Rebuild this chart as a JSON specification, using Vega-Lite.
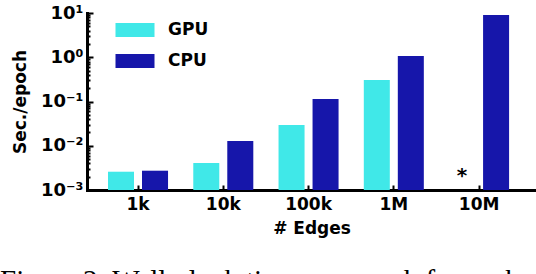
{
  "$schema": "https://vega.github.io/schema/vega-lite/v6.json",
  "autosize": {"type": "none"},
  "padding": {"left": 87, "top": 13, "right": 0, "bottom": 84},
  "width": 449,
  "height": 177,
  "background": "white",
  "title": {
    "text": "Figure 2: Wall-clock time per epoch for each",
    "orient": "bottom",
    "anchor": "start",
    "frame": "group",
    "dx": -87,
    "offset": 31,
    "font": "Liberation Serif",
    "fontSize": 29,
    "fontWeight": "normal",
    "color": "black",
    "baseline": "top"
  },
  "data": {
    "values": [
      {"edges": "1k", "device": "GPU", "sec": 0.00259},
      {"edges": "1k", "device": "CPU", "sec": 0.00273},
      {"edges": "10k", "device": "GPU", "sec": 0.00407},
      {"edges": "10k", "device": "CPU", "sec": 0.0128},
      {"edges": "100k", "device": "GPU", "sec": 0.0294},
      {"edges": "100k", "device": "CPU", "sec": 0.1137},
      {"edges": "1M", "device": "GPU", "sec": 0.306},
      {"edges": "1M", "device": "CPU", "sec": 1.067},
      {"edges": "10M", "device": "GPU", "sec": null, "note": "*"},
      {"edges": "10M", "device": "CPU", "sec": 9.0}
    ]
  },
  "encoding": {
    "x": {
      "field": "edges",
      "type": "nominal",
      "sort": ["1k", "10k", "100k", "1M", "10M"],
      "scale": {"paddingInner": 0, "paddingOuter": 0.133, "align": 0.37},
      "axis": {
        "title": "# Edges",
        "labelAngle": 0,
        "tickSize": -5,
        "tickWidth": 2,
        "tickColor": "black",
        "domainWidth": 3,
        "domainColor": "black",
        "domainCap": "square",
        "labelPadding": 11,
        "labelFont": "DejaVu Sans",
        "labelFontSize": 17,
        "labelFontWeight": "bold",
        "labelColor": "black",
        "titleFont": "DejaVu Sans",
        "titleFontSize": 17,
        "titleFontWeight": "bold",
        "titleColor": "black",
        "titlePadding": 8
      }
    },
    "xOffset": {
      "field": "device",
      "type": "nominal",
      "sort": ["GPU", "CPU"],
      "scale": {"paddingInner": 0.235, "paddingOuter": 0.371}
    }
  },
  "layer": [
    {
      "transform": [{"filter": "isValid(datum.sec)"}],
      "mark": {"type": "bar"},
      "encoding": {
        "y": {
          "field": "sec",
          "type": "quantitative",
          "stack": null,
          "scale": {"type": "log", "domain": [0.001, 10], "nice": false},
          "axis": {
            "title": "Sec./epoch",
            "values": [0.001, 0.002, 0.003, 0.004, 0.005, 0.006, 0.007, 0.008, 0.009, 0.01, 0.02, 0.03, 0.04, 0.05, 0.06, 0.07, 0.08, 0.09, 0.1, 0.2, 0.3, 0.4, 0.5, 0.6, 0.7, 0.8, 0.9, 1, 2, 3, 4, 5, 6, 7, 8, 9, 10],
            "labelExpr": "datum.value == 10 ? '10¹' : datum.value == 1 ? '10⁰' : datum.value == 0.1 ? '10⁻¹' : datum.value == 0.01 ? '10⁻²' : datum.value == 0.001 ? '10⁻³' : ''",
            "labelOverlap": false,
            "labelBound": false,
            "grid": false,
            "tickSize": {"condition": {"test": "indexof([0.001, 0.01, 0.1, 1, 10], datum.value) >= 0", "value": -6}, "value": -3},
            "tickWidth": 2,
            "tickColor": "black",
            "domainWidth": 3,
            "domainColor": "black",
            "domainCap": "square",
            "labelPadding": 10,
            "labelFont": "DejaVu Sans",
            "labelFontSize": 18,
            "labelFontWeight": "bold",
            "labelColor": "black",
            "titleFont": "DejaVu Sans",
            "titleFontSize": 17,
            "titleFontWeight": "bold",
            "titleColor": "black",
            "titlePadding": 11
          }
        },
        "color": {
          "field": "device",
          "type": "nominal",
          "sort": ["GPU", "CPU"],
          "scale": {"domain": ["GPU", "CPU"], "range": ["#40E8E8", "#1616AA"]},
          "legend": {
            "title": null,
            "orient": "none",
            "legendX": 35,
            "legendY": 4,
            "symbolType": "M-1.5,-0.54L1.5,-0.54L1.5,0.54L-1.5,0.54Z",
            "symbolSize": 676,
            "symbolStrokeWidth": 0,
            "symbolOpacity": 1,
            "labelFont": "DejaVu Sans",
            "labelFontSize": 17,
            "labelFontWeight": "bold",
            "labelColor": "black",
            "labelOffset": 20,
            "rowPadding": 10,
            "padding": 0
          }
        }
      }
    },
    {
      "transform": [{"filter": "isValid(datum.note)"}],
      "mark": {"type": "text", "font": "DejaVu Sans", "fontSize": 20, "fontWeight": "bold", "baseline": "alphabetic", "dy": -8, "color": "black"},
      "encoding": {
        "y": {"datum": 0.001, "type": "quantitative"},
        "text": {"field": "note"}
      }
    }
  ],
  "config": {
    "view": {"stroke": null}
  }
}
